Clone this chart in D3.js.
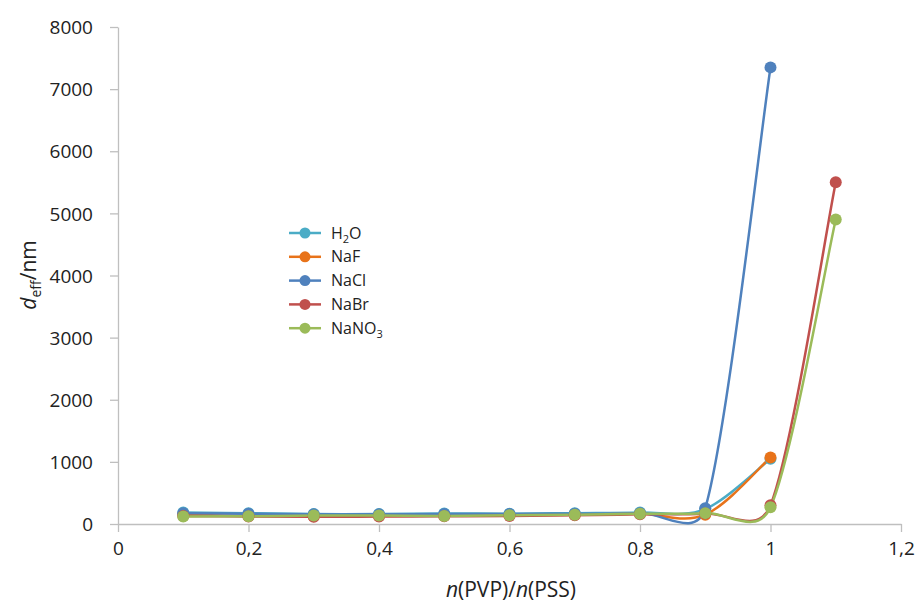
<!DOCTYPE html>
<html><head><meta charset="utf-8">
<script src="https://cdn.jsdelivr.net/npm/d3@7"></script>
<style>body{margin:0;background:#fff}svg{display:block}text{font-family:"Open Sans",Lato,sans-serif;fill:#222}</style>
</head><body><svg id="c" width="917" height="603"></svg>
<script>
const xValues = [0.1,0.2,0.3,0.4,0.5,0.6,0.7,0.8,0.9,1.0,1.1];
const seriesNames = ["H2O","NaF","NaCl","NaBr","NaNO3"];
const h2o   = [185,175,160,160,170,165,175,185,240,1050];
const naf   = [150,130,125,130,135,140,150,165,150,1070];
const nacl  = [175,165,155,155,160,160,165,175,255,7350];
const nabr  = [130,120,115,120,125,130,140,155,170,300,5500];
const nano3 = [120,125,135,135,130,140,150,165,175,270,4900];
const xTicks = [0,0.2,0.4,0.6,0.8,1,1.2];
const xTickLabels = ["0","0,2","0,4","0,6","0,8","1","1,2"];
const yTicks = [0,1000,2000,3000,4000,5000,6000,7000,8000];
const colors = ["#4BACC6","#E8731A","#4F81BD","#C0504D","#9BBB59"];

const allSeries = [h2o,naf,nacl,nabr,nano3];
const svg = d3.select("#c");
const x = d3.scaleLinear().domain([0,1.2]).range([118,901]);
const y = d3.scaleLinear().domain([0,8000]).range([524,27]);

const gx = svg.append("g").attr("transform","translate(0,524)")
  .call(d3.axisBottom(x).tickValues(xTicks).tickFormat((d,i)=>xTickLabels[i]).tickSize(8).tickSizeOuter(0));
const gy = svg.append("g").attr("transform","translate(118,0)")
  .call(d3.axisLeft(y).tickValues(yTicks).tickFormat(d3.format("d")).tickSize(8).tickSizeOuter(0));
[gx,gy].forEach(g=>{
  g.select(".domain").attr("stroke","#BFBFBF").attr("stroke-width",1.3);
  g.selectAll(".tick line").attr("stroke","#BFBFBF").attr("stroke-width",1.3);
  g.selectAll(".tick text").style("font-family","'Open Sans',Lato,sans-serif").style("font-size","19px").attr("fill","#222");
});
gx.selectAll(".tick text").attr("y",18).attr("dy","0.71em");
gy.selectAll(".tick text").attr("x",-25).attr("dy","0.35em");

// Excel-style smoothed line (Bezier, tangent factor 1/6 capped at half segment)
function smoothPath(s){
  const p = s.map((d,i)=>[x(xValues[i]), y(d)]);
  const dist=(a,b)=>Math.hypot(a[0]-b[0],a[1]-b[1]);
  const path = d3.path();
  path.moveTo(p[0][0],p[0][1]);
  for(let i=0;i<p.length-1;i++){
    const p0=p[Math.max(i-1,0)], p1=p[i], p2=p[i+1], p3=p[Math.min(i+2,p.length-1)];
    const d12=dist(p1,p2), d02=dist(p0,p2), d13=dist(p1,p3);
    const f1 = d02>0 ? Math.min(1/6, d12/(2*d02)) : 0;
    const f2 = d13>0 ? Math.min(1/6, d12/(2*d13)) : 0;
    path.bezierCurveTo(p1[0]+f1*(p2[0]-p0[0]), p1[1]+f1*(p2[1]-p0[1]),
                       p2[0]-f2*(p3[0]-p1[0]), p2[1]-f2*(p3[1]-p1[1]), p2[0], p2[1]);
  }
  return path.toString();
}
allSeries.forEach((s,k)=>{
  svg.append("path").attr("d",smoothPath(s)).attr("fill","none")
    .attr("stroke",colors[k]).attr("stroke-width",2.5).attr("stroke-linejoin","round");
});
allSeries.forEach((s,k)=>{
  svg.append("g").selectAll("circle").data(s).join("circle")
    .attr("cx",(d,i)=>x(xValues[i])).attr("cy",d=>y(d)).attr("r",6).attr("fill",colors[k]);
});

const lg = svg.append("g");
seriesNames.forEach((n,k)=>{
  const yy = 233 + k*23.8;
  lg.append("line").attr("x1",289).attr("x2",321).attr("y1",yy).attr("y2",yy).attr("stroke",colors[k]).attr("stroke-width",2.5);
  lg.append("circle").attr("cx",305).attr("cy",yy).attr("r",5.5).attr("fill",colors[k]);
  const t = lg.append("text").attr("x",331).attr("y",yy+5.5).style("font-size","16px");
  if(n==="H2O"){t.append("tspan").text("H");t.append("tspan").text("2").style("font-size","11px").attr("dy",4);t.append("tspan").text("O").attr("dy",-4);}
  else if(n==="NaNO3"){t.append("tspan").text("NaNO");t.append("tspan").text("3").style("font-size","11px").attr("dy",4);}
  else t.text(n);
});

const yt = svg.append("text").attr("transform","translate(36,275) rotate(-90)").attr("text-anchor","middle").style("font-size","21px");
yt.append("tspan").text("d").style("font-style","italic");
yt.append("tspan").text("eff").style("font-size","14px").attr("dy",5);
yt.append("tspan").text("/nm").attr("dy",-5);
const xt = svg.append("text").attr("x",511).attr("y",597).attr("text-anchor","middle").style("font-size","21px");
xt.append("tspan").text("n").style("font-style","italic");
xt.append("tspan").text("(PVP)/");
xt.append("tspan").text("n").style("font-style","italic");
xt.append("tspan").text("(PSS)");
</script></body></html>
